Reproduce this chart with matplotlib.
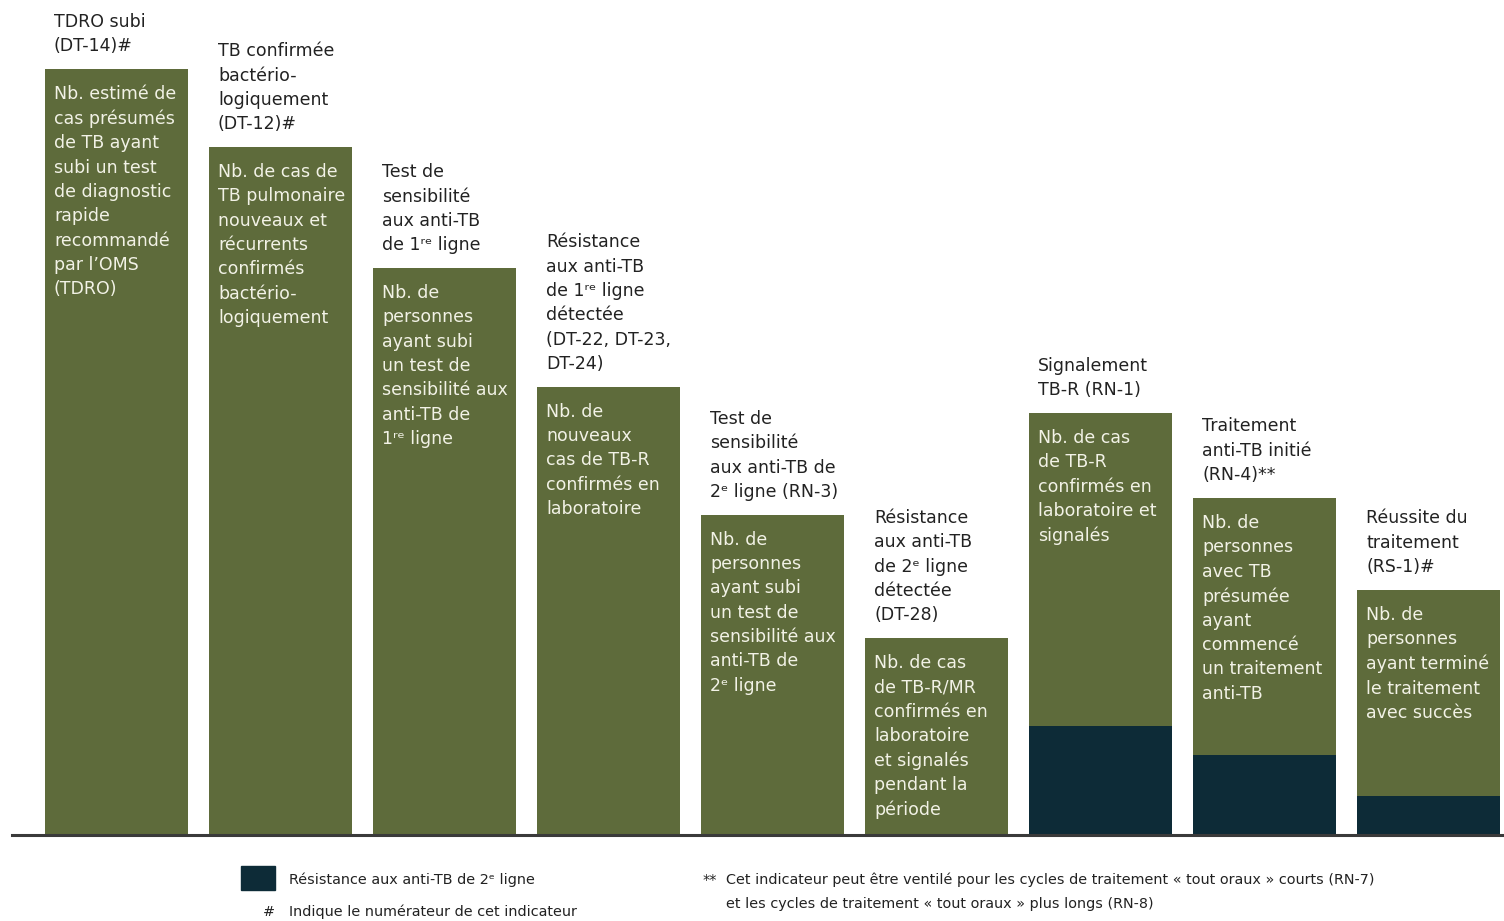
import matplotlib
matplotlib.use("Agg")
import matplotlib.pyplot as plt
import numpy as np

# titres au-dessus des barres
titres = [
	"TDRO subi\n(DT-14)#",
	"TB confirmée\nbactério-\nlogiquement\n(DT-12)#",
	"Test de\nsensibilité\naux anti-TB\nde 1ʳᵉ ligne",
	"Résistance\naux anti-TB\nde 1ʳᵉ ligne\ndétectée\n(DT-22, DT-23,\nDT-24)",
	"Test de\nsensibilité\naux anti-TB de\n2ᵉ ligne (RN-3)",
	"Résistance\naux anti-TB\nde 2ᵉ ligne\ndétectée\n(DT-28)",
	"Signalement\nTB-R (RN-1)",
	"Traitement\nanti-TB initié\n(RN-4)**",
	"Réussite du\ntraitement\n(RS-1)#",
]

# texte dans les barres
descriptions = [
	"Nb. estimé de\ncas présumés\nde TB ayant\nsubi un test\nde diagnostic\nrapide\nrecommandé\npar l’OMS\n(TDRO)",
	"Nb. de cas de\nTB pulmonaire\nnouveaux et\nrécurrents\nconfirmés\nbactério-\nlogiquement",
	"Nb. de\npersonnes\nayant subi\nun test de\nsensibilité aux\nanti-TB de\n1ʳᵉ ligne",
	"Nb. de\nnouveaux\ncas de TB-R\nconfirmés en\nlaboratoire",
	"Nb. de\npersonnes\nayant subi\nun test de\nsensibilité aux\nanti-TB de\n2ᵉ ligne",
	"Nb. de cas\nde TB-R/MR\nconfirmés en\nlaboratoire\net signalés\npendant la\npériode",
	"Nb. de cas\nde TB-R\nconfirmés en\nlaboratoire et\nsignalés",
	"Nb. de\npersonnes\navec TB\nprésumée\nayant\ncommencé\nun traitement\nanti-TB",
	"Nb. de\npersonnes\nayant terminé\nle traitement\navec succès",
]

# hauteurs relatives (1re barre = 100)
totaux = [100, 89.8, 74.0, 58.5, 41.8, 25.7, 55.1, 44.0, 32.0]
resistance_2e_ligne = [0, 0, 0, 0, 0, 0, 14.2, 10.4, 5.1]

VERT = "#5e6b3b"
BLEU_NUIT = "#0d2b37"
ENCRE = "#222222"

fig = plt.figure(figsize=(15.04, 9.21), dpi=100)
ax = fig.add_axes([0, 86 / 921, 1, 835 / 921])

x = np.arange(len(totaux))
largeur = 0.872
gauche = x - largeur / 2
reste = np.array(totaux) - np.array(resistance_2e_ligne)

ax.bar(x, resistance_2e_ligne, width=largeur, color=BLEU_NUIT, linewidth=0)
ax.bar(x, reste, width=largeur, bottom=resistance_2e_ligne, color=VERT, linewidth=0)

for i in range(len(totaux)):
	ax.annotate(titres[i], (gauche[i], totaux[i]), xytext=(9, 14), textcoords="offset pixels",
		ha="left", va="bottom", fontsize=12.5, color=ENCRE, linespacing=1.45)
	ax.annotate(descriptions[i], (gauche[i], totaux[i]), xytext=(9, -16), textcoords="offset pixels",
		ha="left", va="top", fontsize=12.5, color="#f2f2e6", linespacing=1.45)

ax.set_xlim(-0.71, 8.46)
ax.set_ylim(0, 100 * 835 / 766)
ax.axhline(0, xmin=12 / 1504, xmax=1, color="#3a3a3a", lw=2.2, clip_on=False)
ax.axis("off")

# légende et notes
fig.patches.append(plt.Rectangle((241 / 1504, 1 - 890 / 921), 34 / 1504, 24 / 921,
	transform=fig.transFigure, color=BLEU_NUIT))
fs = 10.4
fig.text(289 / 1504, 1 - 880 / 921, "Résistance aux anti-TB de 2ᵉ ligne", fontsize=fs, va="center", color=ENCRE)
fig.text(263 / 1504, 1 - 912 / 921, "#", fontsize=fs, va="center", color=ENCRE)
fig.text(289 / 1504, 1 - 912 / 921, "Indique le numérateur de cet indicateur", fontsize=fs, va="center", color=ENCRE)
fig.text(703 / 1504, 1 - 880 / 921, "**", fontsize=fs, va="center", color=ENCRE)
fig.text(726 / 1504, 1 - 880 / 921,
	"Cet indicateur peut être ventilé pour les cycles de traitement « tout oraux » courts (RN-7)",
	fontsize=fs, va="center", color=ENCRE)
fig.text(726 / 1504, 1 - 904 / 921, "et les cycles de traitement « tout oraux » plus longs (RN-8)",
	fontsize=fs, va="center", color=ENCRE)

fig.savefig("out.png", dpi=100)
